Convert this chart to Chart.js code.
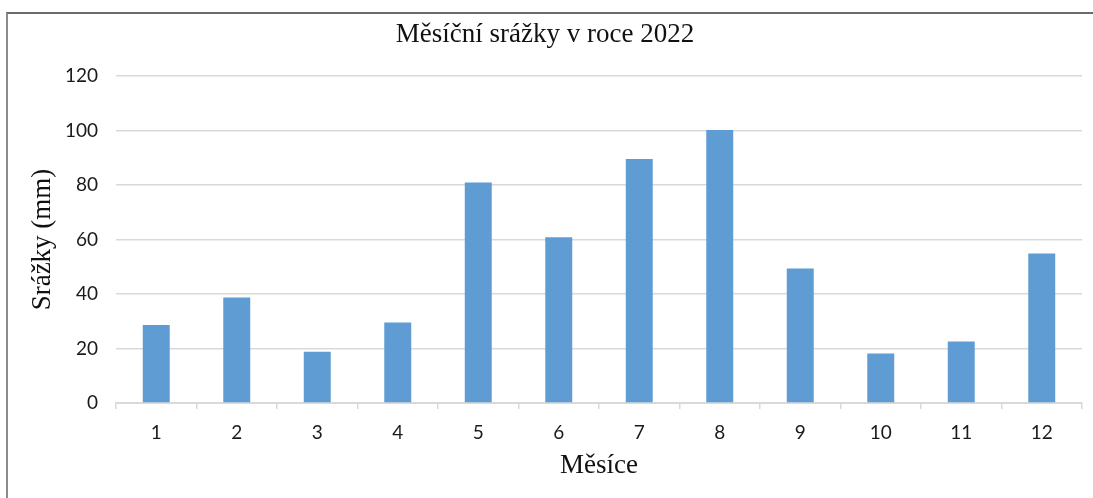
<!DOCTYPE html>
<html>
<head>
<meta charset="utf-8">
<script src="https://cdn.jsdelivr.net/npm/chart.js@4"></script>
<style>
  html, body { margin: 0; padding: 0; background: #fff; }
  #wrap { position: relative; width: 1093px; height: 498px; overflow: hidden; }
  #ramecek {
    position: absolute; left: 6px; top: 12px; width: 1100px; height: 500px;
    border-top: 2px solid #6a6a6a; border-left: 2px solid #8c8c8c;
    pointer-events: none;
  }
  canvas { position: absolute; left: 0; top: 0; }
</style>
</head>
<body>
<div id="wrap">
  <canvas id="grafSrazky" width="1093" height="498"></canvas>
  <div id="ramecek"></div>
</div>
<script>
// Data
const mesice = ["1", "2", "3", "4", "5", "6", "7", "8", "9", "10", "11", "12"];
const srazky = [28.6, 38.7, 18.8, 29.5, 80.9, 60.8, 89.5, 100.2, 49.4, 18.2, 22.6, 54.9];
const osaYTicky = [0, 20, 40, 60, 80, 100, 120];

const nadpis = "Měsíční srážky v roce 2022";
const popisX = "Měsíce";
const popisY = "Srážky (mm)";

const ctx = document.getElementById("grafSrazky").getContext("2d");

new Chart(ctx, {
    type: "bar",
    data: {
        labels: mesice,
        datasets: [{
            label: "Srážky",
            data: srazky,
            backgroundColor: "#5e9cd3",
            borderWidth: 0,
            barPercentage: 1,
            categoryPercentage: 0.335
        }]
    },
    options: {
        responsive: false,
        animation: false,
        devicePixelRatio: 1,
        layout: {
            padding: { top: 13, left: 8, right: 11, bottom: 0 }
        },
        plugins: {
            legend: { display: false },
            tooltip: { enabled: false },
            title: {
                display: true,
                text: nadpis,
                color: "#111",
                font: { family: "'Liberation Serif', 'Times New Roman', serif", size: 27, weight: "normal" },
                padding: { top: 6, bottom: 24.6 }
            }
        },
        scales: {
            x: {
                afterFit: (scale) => { scale.height = 95; },
                grid: {
                    display: true,
                    drawOnChartArea: false,
                    drawTicks: true,
                    tickLength: 6,
                    color: "#d9d9d9",
                    lineWidth: 1.5
                },
                border: { display: true, color: "#d9d9d9", width: 2 },
                ticks: {
                    color: "#1a1a1a",
                    padding: 12,
                    font: { family: "Lato, 'Liberation Sans', sans-serif", size: 19 }
                },
                title: {
                    display: true,
                    text: popisX,
                    color: "#111",
                    font: { family: "'Liberation Serif', 'Times New Roman', serif", size: 27 },
                    padding: { top: 16, bottom: 16 }
                }
            },
            y: {
                min: 0,
                max: 120,
                afterFit: (scale) => { scale.width = 108; },
                afterBuildTicks: (scale) => {
                    scale.ticks = osaYTicky.map(v => ({ value: v }));
                },
                grid: {
                    color: "#d9d9d9",
                    lineWidth: 1.5,
                    drawTicks: false
                },
                border: { display: false },
                ticks: {
                    color: "#1a1a1a",
                    padding: 18,
                    font: { family: "Lato, 'Liberation Sans', sans-serif", size: 19 }
                },
                title: {
                    display: true,
                    text: popisY,
                    color: "#111",
                    font: { family: "'Liberation Serif', 'Times New Roman', serif", size: 27 },
                    padding: { top: 19, bottom: 0 }
                }
            }
        }
    }
});
</script>
</body>
</html>
